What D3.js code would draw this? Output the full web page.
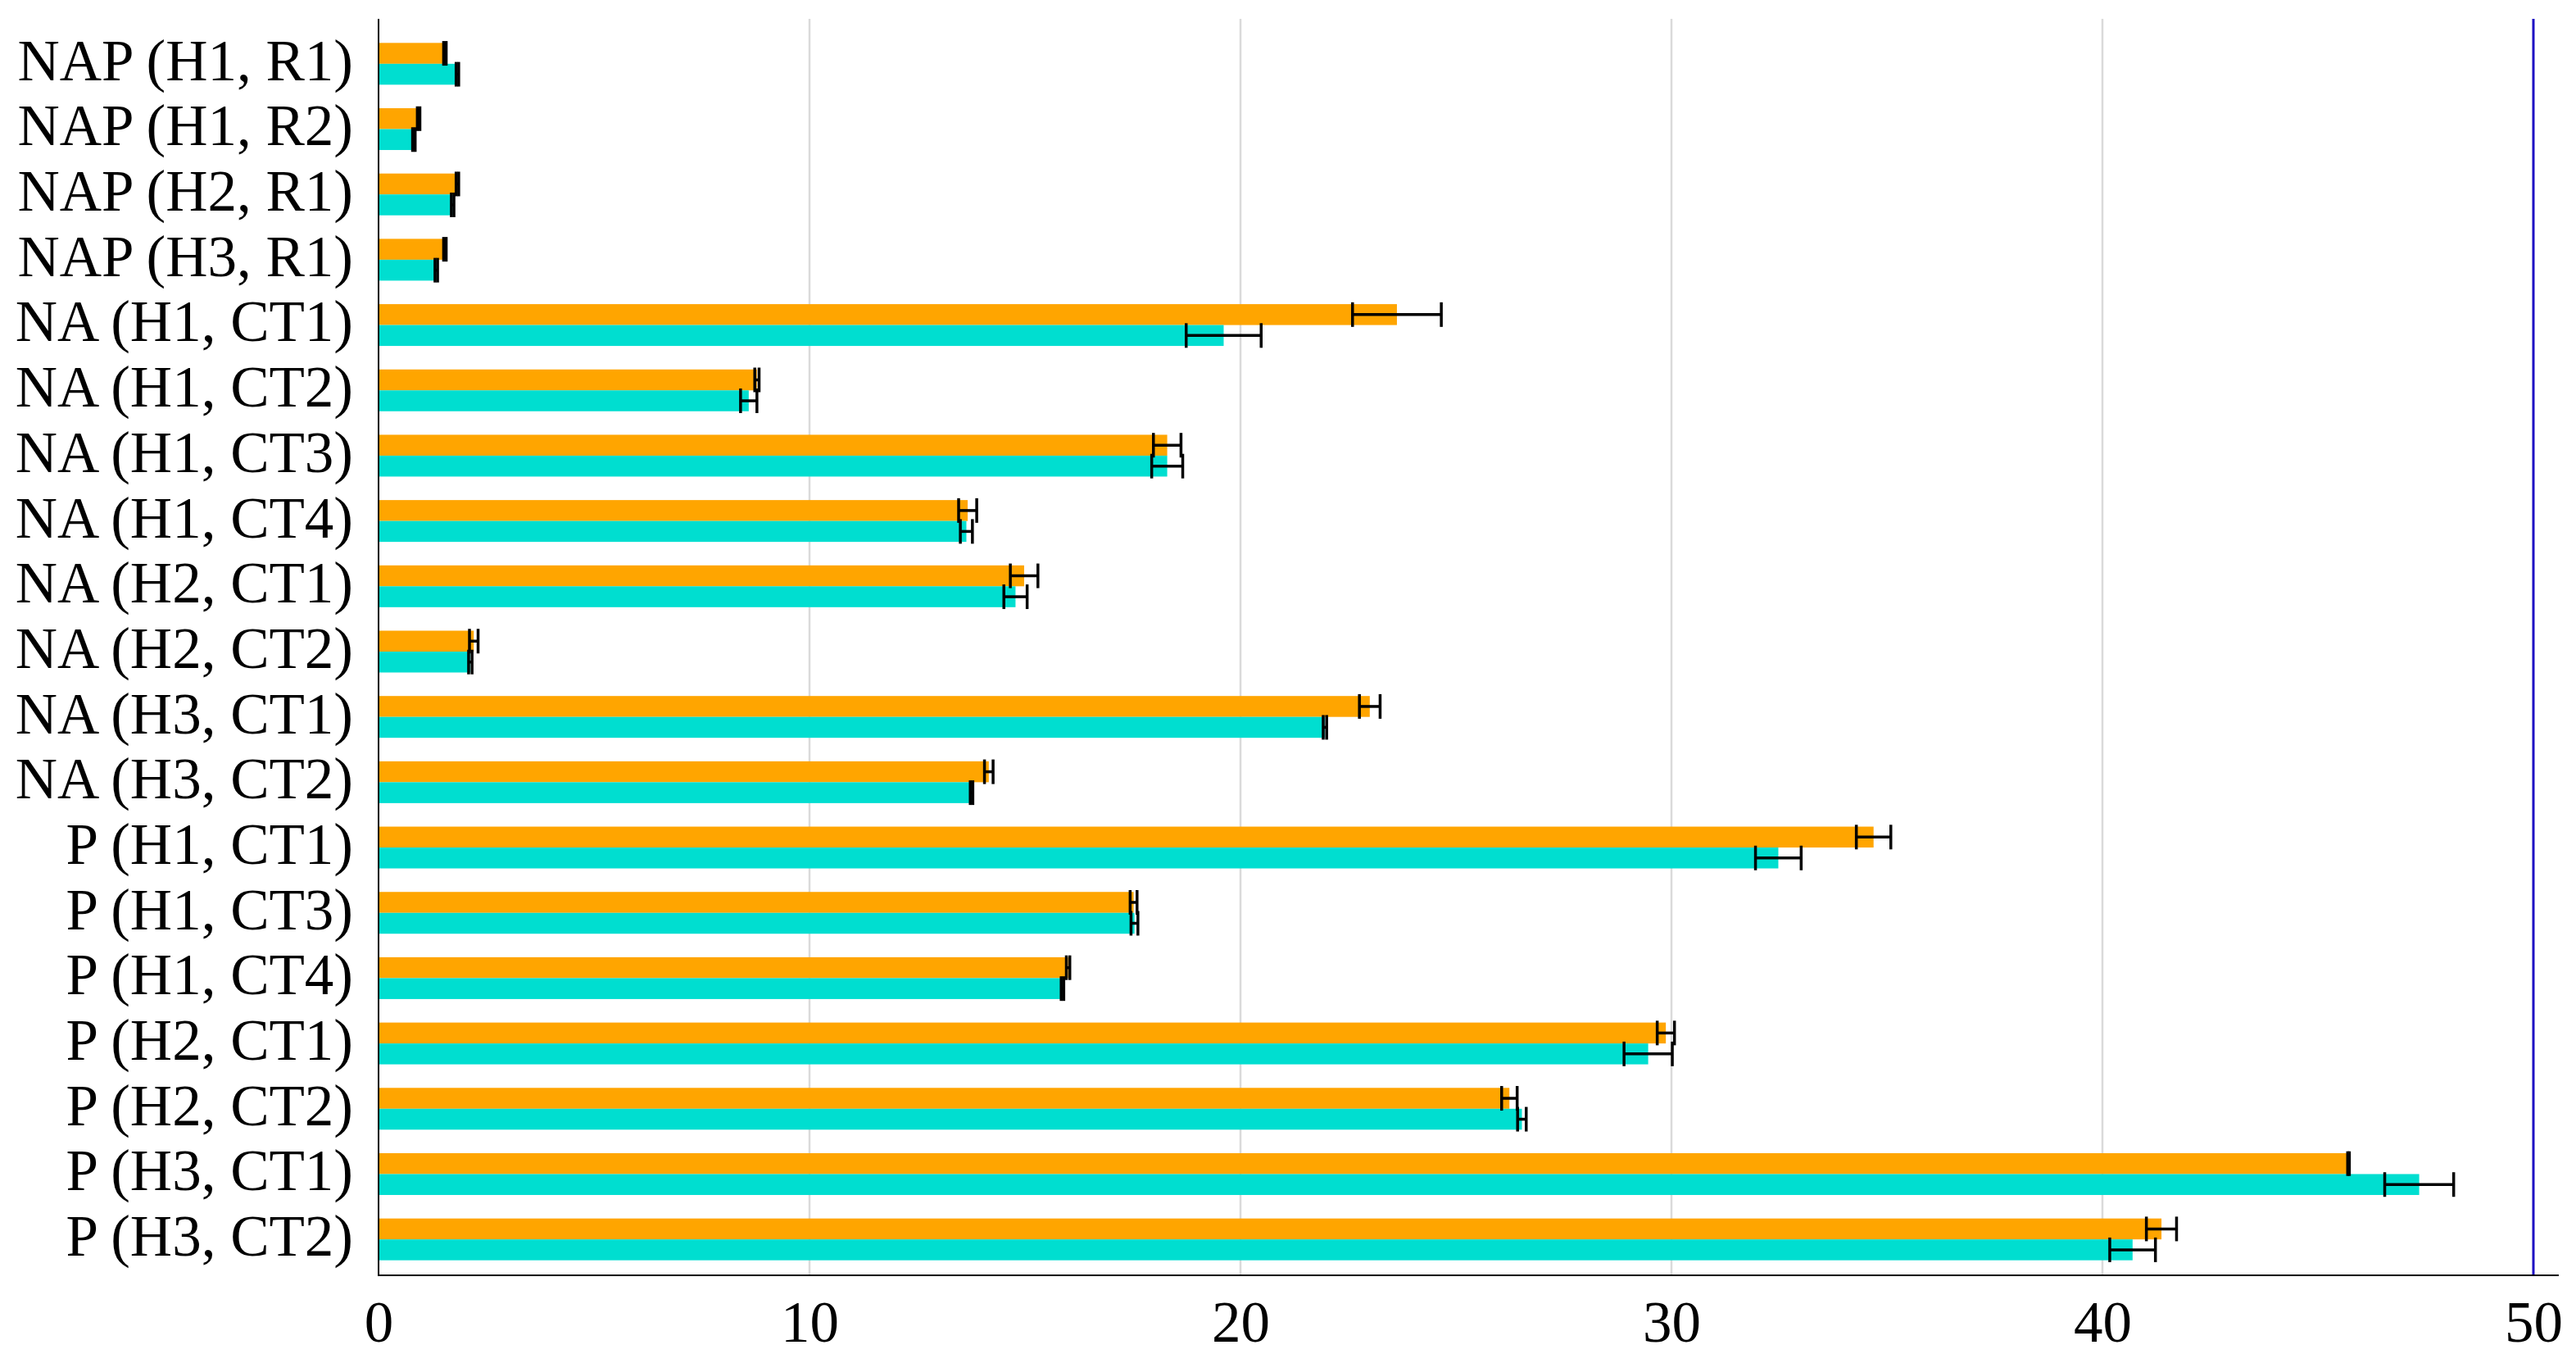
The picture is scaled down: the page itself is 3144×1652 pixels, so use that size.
<!DOCTYPE html>
<html>
<head>
<meta charset="utf-8">
<script src="https://cdn.jsdelivr.net/npm/d3@7"></script>
<style>
	body { margin: 0; background: #fff; }
	svg { display: block; }
	text { font-family: "Liberation Serif", "Times New Roman", serif; }
</style>
</head>
<body>
<svg id="chart" width="3144" height="1652"></svg>
<script>
var categories = [
	"NAP (H1, R1)", "NAP (H1, R2)", "NAP (H2, R1)", "NAP (H3, R1)",
	"NA (H1, CT1)", "NA (H1, CT2)", "NA (H1, CT3)", "NA (H1, CT4)",
	"NA (H2, CT1)", "NA (H2, CT2)", "NA (H3, CT1)", "NA (H3, CT2)",
	"P (H1, CT1)", "P (H1, CT3)", "P (H1, CT4)", "P (H2, CT1)",
	"P (H2, CT2)", "P (H3, CT1)", "P (H3, CT2)"
];
var orangeVals = [1.54, 0.93, 1.83, 1.54, 23.63, 8.78, 18.30, 13.67, 14.98, 2.21, 23.0, 14.16, 34.69, 17.52, 16.0, 29.87, 26.24, 45.71, 41.37];
var orangeErr  = [0.03, 0.03, 0.03, 0.03, 1.03, 0.05, 0.32, 0.21, 0.32, 0.10, 0.24, 0.10, 0.40, 0.08, 0.04, 0.20, 0.18, 0.02, 0.35];
var tealVals   = [1.83, 0.82, 1.72, 1.34, 19.61, 8.59, 18.30, 13.64, 14.78, 2.13, 21.96, 13.76, 32.48, 17.54, 15.87, 29.46, 26.53, 47.35, 40.70];
var tealErr    = [0.03, 0.03, 0.03, 0.03, 0.87, 0.19, 0.36, 0.14, 0.27, 0.04, 0.04, 0.03, 0.53, 0.08, 0.03, 0.56, 0.10, 0.80, 0.53];
var xTicks = [0, 10, 20, 30, 40, 50];
var refLine = 50;

var margin = { left: 462, top: 38, bottom: 1552 };
var svg = d3.select("#chart");

var x = d3.scaleLinear().domain([0, 50]).range([462, 3092]);
var y = d3.scaleBand().domain(categories).range([margin.top, margin.bottom]);
var barH = 25.5;

// grid
svg.append("g")
	.selectAll("line")
	.data(xTicks.slice(1, -1))
	.enter().append("line")
	.attr("x1", d => x(d)).attr("x2", d => x(d))
	.attr("y1", 23).attr("y2", 1556)
	.attr("stroke", "#dadada")
	.attr("stroke-width", 2.5);

var series = [
	{ vals: orangeVals, err: orangeErr, color: "#ffa500", off: -barH },
	{ vals: tealVals, err: tealErr, color: "#00ded0", off: 0 }
];

for (let s of series) {
	svg.append("g").selectAll("rect")
		.data(categories)
		.enter().append("rect")
		.attr("x", x(0))
		.attr("y", d => y(d) + y.bandwidth() / 2 + s.off)
		.attr("width", (d, i) => x(s.vals[i]) - x(0))
		.attr("height", barH)
		.attr("fill", s.color);
}

// error bars
for (let s of series) {
	let g = svg.append("g").attr("stroke", "#000");
	categories.forEach((c, i) => {
		let cy = y(c) + y.bandwidth() / 2 + s.off + barH / 2;
		let lo = x(s.vals[i] - s.err[i]), hi = x(s.vals[i] + s.err[i]);
		g.append("line").attr("x1", lo).attr("x2", hi).attr("y1", cy).attr("y2", cy).attr("stroke-width", 3.5);
		g.append("line").attr("x1", lo).attr("x2", lo).attr("y1", cy - 15).attr("y2", cy + 15).attr("stroke-width", 3.5);
		g.append("line").attr("x1", hi).attr("x2", hi).attr("y1", cy - 15).attr("y2", cy + 15).attr("stroke-width", 3.5);
	});
}

// reference line
svg.append("line")
	.attr("x1", x(refLine)).attr("x2", x(refLine))
	.attr("y1", 23).attr("y2", 1556)
	.attr("stroke", "#1f10c4")
	.attr("stroke-width", 3);

// axes
svg.append("line").attr("x1", x(0)).attr("x2", x(0)).attr("y1", 23).attr("y2", 1557)
	.attr("stroke", "#000").attr("stroke-width", 2);
svg.append("line").attr("x1", x(0)).attr("x2", 3123).attr("y1", 1556).attr("y2", 1556)
	.attr("stroke", "#000").attr("stroke-width", 2);

var xAxis = svg.append("g")
	.attr("transform", "translate(0, 1556)")
	.call(d3.axisBottom(x).tickValues(xTicks).tickSize(0).tickPadding(31));
xAxis.select(".domain").remove();
xAxis.selectAll("text")
	.attr("font-size", "71px")
	.attr("font-family", "Liberation Serif, Times New Roman, serif")
	.attr("fill", "#000")
	.attr("dy", "0.71em");

var yAxis = svg.append("g")
	.attr("transform", `translate(${x(0)}, 0)`)
	.call(d3.axisLeft(y).tickSize(0).tickPadding(31));
yAxis.select(".domain").remove();
yAxis.selectAll("text")
	.attr("font-size", "71px")
	.attr("font-family", "Liberation Serif, Times New Roman, serif")
	.attr("fill", "#000")
	.attr("dy", "0.28em");
</script>
</body>
</html>
